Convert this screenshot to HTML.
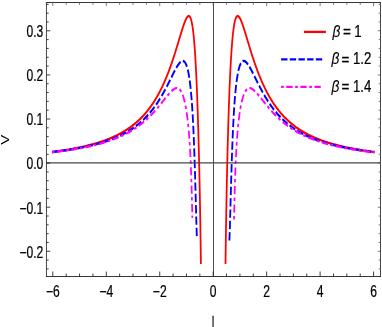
<!DOCTYPE html>
<html><head><meta charset="utf-8"><title>plot</title>
<style>
html,body{margin:0;padding:0;background:#fff;}
body{width:382px;height:327px;overflow:hidden;}
svg{display:block;will-change:transform;}
text{font-family:"Liberation Sans",sans-serif;fill:#000;stroke:#000;stroke-width:0.25px;}
</style></head><body>
<svg width="382" height="327" viewBox="0 0 382 327">
<g transform="scale(0.765 1)">
<g fill="none" stroke-linejoin="round">
<g stroke="#f00" stroke-width="2.3">
<path d="M68.00 152.03 L69.29 151.91 L70.59 151.78 L71.89 151.65 L73.18 151.52 L74.48 151.38 L75.77 151.24 L77.07 151.10 L78.36 150.96 L79.66 150.81 L80.95 150.67 L82.24 150.52 L83.53 150.36 L84.82 150.21 L86.12 150.05 L87.41 149.89 L88.70 149.72 L89.99 149.56 L91.27 149.39 L92.56 149.21 L93.85 149.04 L95.13 148.86 L96.42 148.68 L97.70 148.49 L98.99 148.30 L100.27 148.11 L101.55 147.91 L102.83 147.71 L104.11 147.50 L105.39 147.29 L106.67 147.08 L107.95 146.86 L109.22 146.64 L110.50 146.42 L111.77 146.19 L113.04 145.96 L114.31 145.72 L115.58 145.47 L116.85 145.23 L118.11 144.97 L119.38 144.71 L120.64 144.45 L121.90 144.18 L123.16 143.91 L124.42 143.63 L125.67 143.35 L126.92 143.05 L128.17 142.76 L129.42 142.46 L130.66 142.15 L131.91 141.83 L133.15 141.51 L134.38 141.18 L135.62 140.85 L136.85 140.51 L138.07 140.16 L139.30 139.81 L140.52 139.45 L141.74 139.08 L142.95 138.70 L144.16 138.32 L145.36 137.92 L146.57 137.52 L147.76 137.12 L148.95 136.70 L150.14 136.28 L151.32 135.85 L152.50 135.41 L153.67 134.96 L154.84 134.50 L156.00 134.03 L157.15 133.56 L158.30 133.07 L159.44 132.58 L160.58 132.08 L161.71 131.57 L162.83 131.05 L163.94 130.52 L165.05 129.98 L166.15 129.43 L167.24 128.88 L168.32 128.31 L169.40 127.73 L170.46 127.15 L171.52 126.55 L172.57 125.95 L173.61 125.34 L174.64 124.71 L175.66 124.08 L176.67 123.44 L177.67 122.79 L178.67 122.13 L179.65 121.46 L180.62 120.79 L181.58 120.10 L182.53 119.41 L183.47 118.71 L184.41 118.00 L185.33 117.28 L186.23 116.55 L187.13 115.82 L188.02 115.07 L188.90 114.32 L189.76 113.57 L190.62 112.80 L191.46 112.03 L192.30 111.25 L193.12 110.47 L193.94 109.68 L194.74 108.88 L195.53 108.08 L196.31 107.26 L197.08 106.45 L197.84 105.63 L198.59 104.80 L199.33 103.97 L200.06 103.13 L200.78 102.29 L201.49 101.44 L202.20 100.59 L202.89 99.73 L203.57 98.87 L204.24 98.01 L204.91 97.14 L205.56 96.26 L206.21 95.39 L206.85 94.51 L207.47 93.62 L208.10 92.73 L208.71 91.84 L209.31 90.95 L209.91 90.05 L210.50 89.15 L211.08 88.25 L211.65 87.34 L212.22 86.43 L212.78 85.52 L213.33 84.61 L213.88 83.70 L214.42 82.78 L214.95 81.86 L215.47 80.94 L215.99 80.01 L216.51 79.08 L217.01 78.16 L217.52 77.23 L218.01 76.30 L218.50 75.36 L218.99 74.43 L219.47 73.49 L219.94 72.55 L220.41 71.62 L220.87 70.68 L221.33 69.73 L221.79 68.79 L222.24 67.85 L222.69 66.90 L223.13 65.96 L223.57 65.01 L224.00 64.06 L224.43 63.11 L224.85 62.16 L225.28 61.21 L225.70 60.26 L226.11 59.31 L226.52 58.35 L226.93 57.40 L227.34 56.45 L227.74 55.49 L228.14 54.54 L228.54 53.58 L228.93 52.62 L229.33 51.67 L229.72 50.71 L230.11 49.75 L230.49 48.79 L230.88 47.84 L231.26 46.88 L231.64 45.92 L232.02 44.96 L232.40 44.00 L232.78 43.04 L233.16 42.08 L233.53 41.13 L233.91 40.17 L234.28 39.21 L234.66 38.25 L235.03 37.30 L235.41 36.34 L235.79 35.38 L236.17 34.43 L236.55 33.47 L236.93 32.52 L237.31 31.57 L237.70 30.62 L238.09 29.67 L238.48 28.72 L238.88 27.77 L239.28 26.83 L239.70 25.89 L240.11 24.96 L240.54 24.03 L240.98 23.10 L241.44 22.18 L241.91 21.27 L242.40 20.37 L242.92 19.49 L243.47 18.63 L244.08 17.80 L244.76 17.04 L245.55 16.38 L246.56 16.01 L247.86 16.46 L248.76 17.51 L249.34 18.57 L249.78 19.61 L250.15 20.65 L250.48 21.68 L250.76 22.71 L251.02 23.73 L251.26 24.75 L251.48 25.77 L251.69 26.79 L251.89 27.81 L252.07 28.83 L252.25 29.85 L252.41 30.86 L252.57 31.88 L252.72 32.89 L252.87 33.90 L253.01 34.92 L253.15 35.93 L253.28 36.94 L253.41 37.95 L253.53 38.96 L253.65 39.97 L253.76 40.98 L253.88 41.99 L253.99 43.00 L254.09 44.01 L254.20 45.02 L254.30 46.03 L254.40 47.04 L254.50 48.05 L254.59 49.05 L254.69 50.06 L254.78 51.07 L254.87 52.08 L254.95 53.08 L255.04 54.09 L255.12 55.10 L255.21 56.11 L255.29 57.11 L255.37 58.12 L255.45 59.13 L255.52 60.13 L255.60 61.14 L255.68 62.14 L255.75 63.15 L255.82 64.16 L255.89 65.16 L255.96 66.17 L256.03 67.17 L256.10 68.18 L256.17 69.19 L256.24 70.19 L256.30 71.20 L256.37 72.20 L256.43 73.21 L256.50 74.21 L256.56 75.22 L256.62 76.22 L256.68 77.23 L256.74 78.23 L256.80 79.24 L256.86 80.24 L256.92 81.25 L256.98 82.25 L257.03 83.25 L257.09 84.26 L257.14 85.26 L257.20 86.27 L257.25 87.27 L257.31 88.28 L257.36 89.28 L257.41 90.28 L257.47 91.29 L257.52 92.29 L257.57 93.30 L257.62 94.30 L257.67 95.30 L257.72 96.31 L257.77 97.31 L257.82 98.32 L257.87 99.32 L257.92 100.32 L257.96 101.33 L258.01 102.33 L258.06 103.34 L258.11 104.34 L258.15 105.34 L258.20 106.35 L258.24 107.35 L258.29 108.35 L258.33 109.36 L258.38 110.36 L258.42 111.36 L258.46 112.37 L258.51 113.37 L258.55 114.37 L258.59 115.38 L258.63 116.38 L258.68 117.38 L258.72 118.39 L258.76 119.39 L258.80 120.39 L258.84 121.40 L258.88 122.40 L258.92 123.40 L258.96 124.41 L259.00 125.41 L259.04 126.41 L259.08 127.42 L259.12 128.42 L259.16 129.42 L259.19 130.42 L259.23 131.43 L259.27 132.43 L259.31 133.43 L259.34 134.44 L259.38 135.44 L259.42 136.44 L259.45 137.45 L259.49 138.45 L259.53 139.45 L259.56 140.45 L259.60 141.46 L259.63 142.46 L259.67 143.46 L259.70 144.47 L259.74 145.47 L259.77 146.47 L259.80 147.48 L259.84 148.48 L259.87 149.48 L259.90 150.48 L259.94 151.49 L259.97 152.49 L260.00 153.49 L260.04 154.50 L260.07 155.50 L260.10 156.50 L260.13 157.50 L260.16 158.51 L260.20 159.51 L260.23 160.51 L260.26 161.51 L260.29 162.52 L260.32 163.52 L260.35 164.52 L260.38 165.53 L260.41 166.53 L260.44 167.53 L260.47 168.53 L260.50 169.54 L260.53 170.54 L260.56 171.54 L260.59 172.55 L260.62 173.55 L260.65 174.55 L260.67 175.55 L260.70 176.56 L260.73 177.56 L260.76 178.56 L260.79 179.57 L260.81 180.57 L260.84 181.57 L260.87 182.57 L260.90 183.58 L260.92 184.58 L260.95 185.58 L260.98 186.59 L261.00 187.59 L261.03 188.59 L261.06 189.59 L261.08 190.60 L261.11 191.60 L261.13 192.60 L261.16 193.61 L261.19 194.61 L261.21 195.61 L261.24 196.61 L261.26 197.62 L261.29 198.62 L261.31 199.62 L261.33 200.63 L261.36 201.63 L261.38 202.63 L261.41 203.64 L261.43 204.64 L261.45 205.64 L261.48 206.64 L261.50 207.65 L261.53 208.65 L261.55 209.65 L261.57 210.66 L261.59 211.66 L261.62 212.66 L261.64 213.66 L261.66 214.67 L261.68 215.67 L261.71 216.67 L261.73 217.68 L261.75 218.68 L261.77 219.68 L261.79 220.69 L261.82 221.69 L261.84 222.69 L261.86 223.69 L261.88 224.70 L261.90 225.70 L261.92 226.70 L261.94 227.71 L261.96 228.71 L261.98 229.71 L262.00 230.72 L262.02 231.72 L262.04 232.72 L262.06 233.73 L262.08 234.73 L262.10 235.73 L262.12 236.73 L262.14 237.74 L262.16 238.74 L262.18 239.74 L262.20 240.75 L262.22 241.75 L262.24 242.75 L262.26 243.76 L262.27 244.76 L262.29 245.76 L262.31 246.77 L262.33 247.77 L262.35 248.77 L262.36 249.77 L262.38 250.78 L262.40 251.78 L262.42 252.78 L262.44 253.79 L262.45 254.79 L262.47 255.81 L262.49 256.83 L262.51 257.85 L262.52 258.89 L262.54 259.93 L262.56 260.97 L262.58 262.03 L262.59 263.09 L262.61 264.00"/>
<path d="M294.78 264.00 L294.79 263.09 L294.81 262.03 L294.83 260.97 L294.85 259.93 L294.86 258.89 L294.88 257.85 L294.90 256.83 L294.91 255.81 L294.93 254.79 L294.95 253.79 L294.97 252.78 L294.99 251.78 L295.00 250.78 L295.02 249.77 L295.04 248.77 L295.06 247.77 L295.07 246.77 L295.09 245.76 L295.11 244.76 L295.13 243.76 L295.15 242.75 L295.17 241.75 L295.19 240.75 L295.21 239.74 L295.22 238.74 L295.24 237.74 L295.26 236.73 L295.28 235.73 L295.30 234.73 L295.32 233.73 L295.34 232.72 L295.36 231.72 L295.38 230.72 L295.40 229.71 L295.42 228.71 L295.44 227.71 L295.46 226.70 L295.49 225.70 L295.51 224.70 L295.53 223.69 L295.55 222.69 L295.57 221.69 L295.59 220.69 L295.61 219.68 L295.64 218.68 L295.66 217.68 L295.68 216.67 L295.70 215.67 L295.72 214.67 L295.75 213.66 L295.77 212.66 L295.79 211.66 L295.81 210.66 L295.84 209.65 L295.86 208.65 L295.88 207.65 L295.91 206.64 L295.93 205.64 L295.95 204.64 L295.98 203.64 L296.00 202.63 L296.03 201.63 L296.05 200.63 L296.08 199.62 L296.10 198.62 L296.12 197.62 L296.15 196.61 L296.18 195.61 L296.20 194.61 L296.23 193.61 L296.25 192.60 L296.28 191.60 L296.30 190.60 L296.33 189.59 L296.36 188.59 L296.38 187.59 L296.41 186.59 L296.43 185.58 L296.46 184.58 L296.49 183.58 L296.52 182.57 L296.54 181.57 L296.57 180.57 L296.60 179.57 L296.63 178.56 L296.65 177.56 L296.68 176.56 L296.71 175.55 L296.74 174.55 L296.77 173.55 L296.80 172.55 L296.83 171.54 L296.86 170.54 L296.89 169.54 L296.91 168.53 L296.94 167.53 L296.97 166.53 L297.00 165.53 L297.04 164.52 L297.07 163.52 L297.10 162.52 L297.13 161.51 L297.16 160.51 L297.19 159.51 L297.22 158.51 L297.25 157.50 L297.28 156.50 L297.32 155.50 L297.35 154.50 L297.38 153.49 L297.41 152.49 L297.45 151.49 L297.48 150.48 L297.51 149.48 L297.55 148.48 L297.58 147.48 L297.62 146.47 L297.65 145.47 L297.68 144.47 L297.72 143.46 L297.75 142.46 L297.79 141.46 L297.82 140.45 L297.86 139.45 L297.90 138.45 L297.93 137.45 L297.97 136.44 L298.00 135.44 L298.04 134.44 L298.08 133.43 L298.12 132.43 L298.15 131.43 L298.19 130.42 L298.23 129.42 L298.27 128.42 L298.31 127.42 L298.35 126.41 L298.38 125.41 L298.42 124.41 L298.46 123.40 L298.50 122.40 L298.54 121.40 L298.59 120.39 L298.63 119.39 L298.67 118.39 L298.71 117.38 L298.75 116.38 L298.79 115.38 L298.84 114.37 L298.88 113.37 L298.92 112.37 L298.97 111.36 L299.01 110.36 L299.05 109.36 L299.10 108.35 L299.14 107.35 L299.19 106.35 L299.23 105.34 L299.28 104.34 L299.33 103.34 L299.37 102.33 L299.42 101.33 L299.47 100.32 L299.52 99.32 L299.57 98.32 L299.61 97.31 L299.66 96.31 L299.71 95.30 L299.76 94.30 L299.82 93.30 L299.87 92.29 L299.92 91.29 L299.97 90.28 L300.02 89.28 L300.08 88.28 L300.13 87.27 L300.19 86.27 L300.24 85.26 L300.30 84.26 L300.35 83.25 L300.41 82.25 L300.47 81.25 L300.53 80.24 L300.59 79.24 L300.64 78.23 L300.71 77.23 L300.77 76.22 L300.83 75.22 L300.89 74.21 L300.95 73.21 L301.02 72.20 L301.08 71.20 L301.15 70.19 L301.22 69.19 L301.28 68.18 L301.35 67.17 L301.42 66.17 L301.49 65.16 L301.56 64.16 L301.64 63.15 L301.71 62.14 L301.78 61.14 L301.86 60.13 L301.94 59.13 L302.02 58.12 L302.10 57.11 L302.18 56.11 L302.26 55.10 L302.35 54.09 L302.43 53.08 L302.52 52.08 L302.61 51.07 L302.70 50.06 L302.79 49.05 L302.89 48.05 L302.99 47.04 L303.09 46.03 L303.19 45.02 L303.29 44.01 L303.40 43.00 L303.51 41.99 L303.62 40.98 L303.74 39.97 L303.86 38.96 L303.98 37.95 L304.11 36.94 L304.24 35.93 L304.37 34.92 L304.51 33.90 L304.66 32.89 L304.81 31.88 L304.97 30.86 L305.14 29.85 L305.31 28.83 L305.50 27.81 L305.69 26.79 L305.90 25.77 L306.12 24.75 L306.36 23.73 L306.62 22.71 L306.91 21.68 L307.23 20.65 L307.60 19.61 L308.05 18.57 L308.62 17.51 L309.53 16.46 L310.82 16.01 L311.83 16.38 L312.63 17.04 L313.31 17.80 L313.91 18.63 L314.47 19.49 L314.99 20.37 L315.48 21.27 L315.95 22.18 L316.40 23.10 L316.84 24.03 L317.27 24.96 L317.69 25.89 L318.10 26.83 L318.51 27.77 L318.90 28.72 L319.30 29.67 L319.69 30.62 L320.07 31.57 L320.46 32.52 L320.84 33.47 L321.22 34.43 L321.60 35.38 L321.98 36.34 L322.35 37.30 L322.73 38.25 L323.10 39.21 L323.48 40.17 L323.85 41.13 L324.23 42.08 L324.61 43.04 L324.99 44.00 L325.36 44.96 L325.74 45.92 L326.13 46.88 L326.51 47.84 L326.89 48.79 L327.28 49.75 L327.67 50.71 L328.06 51.67 L328.45 52.62 L328.85 53.58 L329.24 54.54 L329.64 55.49 L330.05 56.45 L330.45 57.40 L330.86 58.35 L331.27 59.31 L331.69 60.26 L332.11 61.21 L332.53 62.16 L332.96 63.11 L333.39 64.06 L333.82 65.01 L334.26 65.96 L334.70 66.90 L335.15 67.85 L335.60 68.79 L336.05 69.73 L336.51 70.68 L336.98 71.62 L337.45 72.55 L337.92 73.49 L338.40 74.43 L338.88 75.36 L339.37 76.30 L339.87 77.23 L340.37 78.16 L340.88 79.08 L341.39 80.01 L341.91 80.94 L342.44 81.86 L342.97 82.78 L343.51 83.70 L344.05 84.61 L344.61 85.52 L345.17 86.43 L345.73 87.34 L346.31 88.25 L346.89 89.15 L347.48 90.05 L348.07 90.95 L348.68 91.84 L349.29 92.73 L349.91 93.62 L350.54 94.51 L351.18 95.39 L351.82 96.26 L352.48 97.14 L353.14 98.01 L353.82 98.87 L354.50 99.73 L355.19 100.59 L355.89 101.44 L356.60 102.29 L357.32 103.13 L358.05 103.97 L358.79 104.80 L359.54 105.63 L360.30 106.45 L361.07 107.26 L361.86 108.08 L362.65 108.88 L363.45 109.68 L364.26 110.47 L365.09 111.25 L365.92 112.03 L366.77 112.80 L367.62 113.57 L368.49 114.32 L369.36 115.07 L370.25 115.82 L371.15 116.55 L372.06 117.28 L372.98 118.00 L373.91 118.71 L374.85 119.41 L375.80 120.10 L376.76 120.79 L377.74 121.46 L378.72 122.13 L379.71 122.79 L380.71 123.44 L381.72 124.08 L382.75 124.71 L383.78 125.34 L384.82 125.95 L385.87 126.55 L386.92 127.15 L387.99 127.73 L389.06 128.31 L390.15 128.88 L391.24 129.43 L392.34 129.98 L393.44 130.52 L394.56 131.05 L395.68 131.57 L396.81 132.08 L397.94 132.58 L399.09 133.07 L400.23 133.56 L401.39 134.03 L402.55 134.50 L403.71 134.96 L404.89 135.41 L406.06 135.85 L407.24 136.28 L408.43 136.70 L409.62 137.12 L410.82 137.52 L412.02 137.92 L413.23 138.32 L414.44 138.70 L415.65 139.08 L416.87 139.45 L418.09 139.81 L419.31 140.16 L420.54 140.51 L421.77 140.85 L423.00 141.18 L424.24 141.51 L425.48 141.83 L426.72 142.15 L427.97 142.46 L429.21 142.76 L430.46 143.05 L431.72 143.35 L432.97 143.63 L434.23 143.91 L435.48 144.18 L436.74 144.45 L438.01 144.71 L439.27 144.97 L440.54 145.23 L441.80 145.47 L443.07 145.72 L444.34 145.96 L445.61 146.19 L446.89 146.42 L448.16 146.64 L449.44 146.86 L450.71 147.08 L451.99 147.29 L453.27 147.50 L454.55 147.71 L455.83 147.91 L457.11 148.11 L458.40 148.30 L459.68 148.49 L460.97 148.68 L462.25 148.86 L463.54 149.04 L464.82 149.21 L466.11 149.39 L467.40 149.56 L468.69 149.72 L469.98 149.89 L471.27 150.05 L472.56 150.21 L473.85 150.36 L475.14 150.52 L476.44 150.67 L477.73 150.81 L479.02 150.96 L480.32 151.10 L481.61 151.24 L482.91 151.38 L484.20 151.52 L485.50 151.65 L486.79 151.78 L488.09 151.91 L489.39 152.03"/>
</g>
<g stroke="#00f" stroke-width="2.4" stroke-dasharray="8.35 3.00">
<path stroke-dashoffset="0" d="M68.00 152.02 L69.30 151.90 L70.59 151.79 L71.89 151.66 L73.19 151.54 L74.49 151.42 L75.78 151.29 L77.08 151.16 L78.38 151.03 L79.67 150.90 L80.97 150.76 L82.26 150.63 L83.56 150.49 L84.85 150.34 L86.14 150.20 L87.44 150.05 L88.73 149.90 L90.02 149.75 L91.31 149.59 L92.61 149.44 L93.90 149.27 L95.19 149.11 L96.47 148.95 L97.76 148.78 L99.05 148.60 L100.34 148.43 L101.63 148.25 L102.91 148.07 L104.20 147.88 L105.48 147.69 L106.76 147.50 L108.05 147.30 L109.33 147.10 L110.61 146.90 L111.89 146.69 L113.16 146.48 L114.44 146.27 L115.72 146.05 L116.99 145.82 L118.27 145.60 L119.54 145.36 L120.81 145.13 L122.08 144.88 L123.35 144.64 L124.61 144.39 L125.88 144.13 L127.14 143.87 L128.40 143.60 L129.66 143.33 L130.92 143.05 L132.17 142.77 L133.42 142.48 L134.67 142.18 L135.92 141.88 L137.17 141.58 L138.41 141.26 L139.65 140.94 L140.89 140.62 L142.12 140.28 L143.35 139.94 L144.58 139.60 L145.80 139.24 L147.03 138.88 L148.24 138.51 L149.46 138.14 L150.67 137.75 L151.87 137.36 L153.07 136.96 L154.27 136.55 L155.46 136.13 L156.64 135.71 L157.83 135.28 L159.00 134.83 L160.17 134.38 L161.34 133.92 L162.50 133.45 L163.65 132.98 L164.79 132.49 L165.93 131.99 L167.07 131.49 L168.19 130.97 L169.31 130.45 L170.42 129.91 L171.52 129.37 L172.62 128.81 L173.70 128.25 L174.78 127.68 L175.85 127.09 L176.91 126.50 L177.96 125.90 L179.00 125.29 L180.03 124.67 L181.06 124.04 L182.07 123.40 L183.07 122.75 L184.06 122.09 L185.05 121.42 L186.02 120.74 L186.98 120.06 L187.93 119.37 L188.87 118.66 L189.80 117.95 L190.72 117.23 L191.63 116.50 L192.53 115.77 L193.41 115.03 L194.29 114.28 L195.16 113.52 L196.01 112.75 L196.86 111.98 L197.69 111.20 L198.51 110.42 L199.33 109.63 L200.13 108.83 L200.92 108.03 L201.70 107.22 L202.48 106.41 L203.24 105.59 L203.99 104.76 L204.74 103.93 L205.47 103.10 L206.20 102.26 L206.92 101.42 L207.63 100.57 L208.33 99.72 L209.02 98.86 L209.71 98.00 L210.38 97.14 L211.05 96.28 L211.71 95.41 L212.37 94.54 L213.02 93.66 L213.66 92.79 L214.30 91.91 L214.93 91.03 L215.55 90.14 L216.17 89.26 L216.79 88.37 L217.39 87.48 L218.00 86.59 L218.60 85.70 L219.20 84.81 L219.79 83.91 L220.38 83.02 L220.97 82.12 L221.55 81.23 L222.14 80.33 L222.72 79.43 L223.30 78.54 L223.88 77.64 L224.46 76.74 L225.04 75.85 L225.62 74.95 L226.20 74.06 L226.79 73.17 L227.38 72.29 L227.98 71.40 L228.58 70.52 L229.19 69.64 L229.81 68.77 L230.44 67.91 L231.08 67.05 L231.74 66.21 L232.42 65.38 L233.13 64.56 L233.88 63.77 L234.66 63.02 L235.51 62.31 L236.43 61.68 L237.47 61.19 L238.65 60.93 L239.95 61.10 L241.14 61.76 L242.06 62.65 L242.77 63.61 L243.36 64.59 L243.86 65.59 L244.31 66.59 L244.71 67.59 L245.07 68.60 L245.40 69.61 L245.71 70.62 L246.00 71.62 L246.27 72.63 L246.52 73.64 L246.76 74.65 L246.99 75.66 L247.21 76.67 L247.42 77.68 L247.61 78.69 L247.80 79.71 L247.99 80.72 L248.16 81.73 L248.33 82.74 L248.49 83.75 L248.65 84.76 L248.80 85.77 L248.95 86.78 L249.09 87.78 L249.23 88.79 L249.37 89.80 L249.50 90.81 L249.62 91.82 L249.75 92.83 L249.87 93.84 L249.98 94.85 L250.10 95.86 L250.21 96.87 L250.32 97.88 L250.42 98.88 L250.53 99.89 L250.63 100.90 L250.73 101.91 L250.82 102.92 L250.92 103.93 L251.01 104.93 L251.10 105.94 L251.19 106.95 L251.28 107.96 L251.36 108.96 L251.44 109.97 L251.53 110.98 L251.61 111.99 L251.69 112.99 L251.76 114.00 L251.84 115.01 L251.92 116.02 L251.99 117.02 L252.06 118.03 L252.13 119.04 L252.20 120.04 L252.27 121.05 L252.34 122.06 L252.41 123.06 L252.47 124.07 L252.54 125.07 L252.60 126.08 L252.67 127.09 L252.73 128.09 L252.79 129.10 L252.85 130.10 L252.91 131.11 L252.97 132.12 L253.03 133.12 L253.09 134.13 L253.14 135.13 L253.20 136.14 L253.25 137.14 L253.31 138.15 L253.36 139.15 L253.42 140.16 L253.47 141.16 L253.52 142.17 L253.57 143.17 L253.62 144.18 L253.67 145.18 L253.72 146.19 L253.77 147.19 L253.82 148.19 L253.87 149.20 L253.92 150.20 L253.96 151.21 L254.01 152.21 L254.06 153.22 L254.10 154.22 L254.15 155.22 L254.20 156.23 L254.24 157.23 L254.28 158.24 L254.33 159.24 L254.37 160.24 L254.42 161.25 L254.46 162.25 L254.50 163.25 L254.54 164.26 L254.59 165.26 L254.63 166.26 L254.67 167.27 L254.71 168.27 L254.75 169.27 L254.79 170.28 L254.83 171.28 L254.87 172.28 L254.91 173.28 L254.95 174.29 L254.99 175.29 L255.03 176.29 L255.07 177.29 L255.10 178.30 L255.14 179.30 L255.18 180.30 L255.22 181.30 L255.26 182.30 L255.29 183.31 L255.33 184.31 L255.37 185.31 L255.41 186.31 L255.44 187.31 L255.48 188.31 L255.52 189.32 L255.55 190.32 L255.59 191.32 L255.63 192.32 L255.66 193.32 L255.70 194.32 L255.73 195.32 L255.77 196.32 L255.80 197.32 L255.84 198.32 L255.88 199.32 L255.91 200.32 L255.95 201.32 L255.98 202.32 L256.02 203.32 L256.05 204.32 L256.09 205.32 L256.12 206.32 L256.16 207.32 L256.20 208.32 L256.23 209.32 L256.27 210.32 L256.30 211.32 L256.34 212.32 L256.37 213.31 L256.41 214.31 L256.45 215.31 L256.48 216.31 L256.52 217.30 L256.56 218.30 L256.59 219.30 L256.63 220.29 L256.67 221.29 L256.71 222.28 L256.74 223.28 L256.78 224.27 L256.82 225.26 L256.86 226.26 L256.90 227.25 L256.94 228.24 L256.98 229.23 L257.02 230.22 L257.07 231.21 L257.11 232.20 L257.16 233.18 L257.20 234.16 L257.25 235.15 L257.30 236.12"/>
<path stroke-dashoffset="0" d="M299.82 240.50 L299.86 239.98 L299.92 239.03 L299.98 238.07 L300.03 237.10 L300.09 236.12 L300.13 235.15 L300.18 234.16 L300.23 233.18 L300.27 232.20 L300.32 231.21 L300.36 230.22 L300.40 229.23 L300.44 228.24 L300.48 227.25 L300.52 226.26 L300.56 225.26 L300.60 224.27 L300.64 223.28 L300.68 222.28 L300.72 221.29 L300.75 220.29 L300.79 219.30 L300.83 218.30 L300.87 217.30 L300.90 216.31 L300.94 215.31 L300.97 214.31 L301.01 213.31 L301.05 212.32 L301.08 211.32 L301.12 210.32 L301.15 209.32 L301.19 208.32 L301.23 207.32 L301.26 206.32 L301.30 205.32 L301.33 204.32 L301.37 203.32 L301.40 202.32 L301.44 201.32 L301.47 200.32 L301.51 199.32 L301.55 198.32 L301.58 197.32 L301.62 196.32 L301.65 195.32 L301.69 194.32 L301.72 193.32 L301.76 192.32 L301.80 191.32 L301.83 190.32 L301.87 189.32 L301.91 188.31 L301.94 187.31 L301.98 186.31 L302.02 185.31 L302.05 184.31 L302.09 183.31 L302.13 182.30 L302.17 181.30 L302.20 180.30 L302.24 179.30 L302.28 178.30 L302.32 177.29 L302.36 176.29 L302.40 175.29 L302.44 174.29 L302.48 173.28 L302.52 172.28 L302.56 171.28 L302.60 170.28 L302.64 169.27 L302.68 168.27 L302.72 167.27 L302.76 166.26 L302.80 165.26 L302.84 164.26 L302.88 163.25 L302.93 162.25 L302.97 161.25 L303.01 160.24 L303.06 159.24 L303.10 158.24 L303.15 157.23 L303.19 156.23 L303.24 155.22 L303.28 154.22 L303.33 153.22 L303.37 152.21 L303.42 151.21 L303.47 150.20 L303.52 149.20 L303.56 148.19 L303.61 147.19 L303.66 146.19 L303.71 145.18 L303.76 144.18 L303.81 143.17 L303.87 142.17 L303.92 141.16 L303.97 140.16 L304.02 139.15 L304.08 138.15 L304.13 137.14 L304.19 136.14 L304.24 135.13 L304.30 134.13 L304.36 133.12 L304.42 132.12 L304.47 131.11 L304.53 130.10 L304.59 129.10 L304.66 128.09 L304.72 127.09 L304.78 126.08 L304.85 125.07 L304.91 124.07 L304.98 123.06 L305.04 122.06 L305.11 121.05 L305.18 120.04 L305.25 119.04 L305.32 118.03 L305.40 117.02 L305.47 116.02 L305.54 115.01 L305.62 114.00 L305.70 112.99 L305.78 111.99 L305.86 110.98 L305.94 109.97 L306.02 108.96 L306.11 107.96 L306.20 106.95 L306.29 105.94 L306.38 104.93 L306.47 103.93 L306.56 102.92 L306.66 101.91 L306.76 100.90 L306.86 99.89 L306.96 98.88 L307.07 97.88 L307.18 96.87 L307.29 95.86 L307.40 94.85 L307.52 93.84 L307.64 92.83 L307.76 91.82 L307.89 90.81 L308.02 89.80 L308.15 88.79 L308.29 87.78 L308.44 86.78 L308.58 85.77 L308.73 84.76 L308.89 83.75 L309.05 82.74 L309.22 81.73 L309.40 80.72 L309.58 79.71 L309.77 78.69 L309.97 77.68 L310.18 76.67 L310.39 75.66 L310.62 74.65 L310.86 73.64 L311.12 72.63 L311.39 71.62 L311.67 70.62 L311.98 69.61 L312.32 68.60 L312.68 67.59 L313.08 66.59 L313.52 65.59 L314.03 64.59 L314.61 63.61 L315.33 62.65 L316.24 61.76 L317.44 61.10 L318.74 60.93 L319.92 61.19 L320.95 61.68 L321.88 62.31 L322.72 63.02 L323.51 63.77 L324.25 64.56 L324.96 65.38 L325.64 66.21 L326.31 67.05 L326.95 67.91 L327.58 68.77 L328.20 69.64 L328.81 70.52 L329.41 71.40 L330.01 72.29 L330.60 73.17 L331.18 74.06 L331.77 74.95 L332.35 75.85 L332.93 76.74 L333.51 77.64 L334.09 78.54 L334.67 79.43 L335.25 80.33 L335.83 81.23 L336.42 82.12 L337.01 83.02 L337.60 83.91 L338.19 84.81 L338.79 85.70 L339.39 86.59 L339.99 87.48 L340.60 88.37 L341.21 89.26 L341.83 90.14 L342.46 91.03 L343.09 91.91 L343.72 92.79 L344.37 93.66 L345.02 94.54 L345.67 95.41 L346.33 96.28 L347.00 97.14 L347.68 98.00 L348.36 98.86 L349.06 99.72 L349.76 100.57 L350.47 101.42 L351.19 102.26 L351.91 103.10 L352.65 103.93 L353.39 104.76 L354.15 105.59 L354.91 106.41 L355.68 107.22 L356.46 108.03 L357.26 108.83 L358.06 109.63 L358.87 110.42 L359.70 111.20 L360.53 111.98 L361.37 112.75 L362.23 113.52 L363.09 114.28 L363.97 115.03 L364.86 115.77 L365.76 116.50 L366.66 117.23 L367.58 117.95 L368.51 118.66 L369.45 119.37 L370.41 120.06 L371.37 120.74 L372.34 121.42 L373.32 122.09 L374.31 122.75 L375.32 123.40 L376.33 124.04 L377.35 124.67 L378.38 125.29 L379.43 125.90 L380.48 126.50 L381.54 127.09 L382.61 127.68 L383.68 128.25 L384.77 128.81 L385.86 129.37 L386.97 129.91 L388.08 130.45 L389.20 130.97 L390.32 131.49 L391.45 131.99 L392.59 132.49 L393.74 132.98 L394.89 133.45 L396.05 133.92 L397.21 134.38 L398.38 134.83 L399.56 135.28 L400.74 135.71 L401.93 136.13 L403.12 136.55 L404.31 136.96 L405.52 137.36 L406.72 137.75 L407.93 138.14 L409.14 138.51 L410.36 138.88 L411.58 139.24 L412.81 139.60 L414.03 139.94 L415.26 140.28 L416.50 140.62 L417.74 140.94 L418.98 141.26 L420.22 141.58 L421.46 141.88 L422.71 142.18 L423.96 142.48 L425.22 142.77 L426.47 143.05 L427.73 143.33 L428.99 143.60 L430.25 143.87 L431.51 144.13 L432.77 144.39 L434.04 144.64 L435.31 144.88 L436.58 145.13 L437.85 145.36 L439.12 145.60 L440.39 145.82 L441.67 146.05 L442.94 146.27 L444.22 146.48 L445.50 146.69 L446.78 146.90 L448.06 147.10 L449.34 147.30 L450.62 147.50 L451.91 147.69 L453.19 147.88 L454.47 148.07 L455.76 148.25 L457.05 148.43 L458.33 148.60 L459.62 148.78 L460.91 148.95 L462.20 149.11 L463.49 149.27 L464.78 149.44 L466.07 149.59 L467.36 149.75 L468.66 149.90 L469.95 150.05 L471.24 150.20 L472.54 150.34 L473.83 150.49 L475.12 150.63 L476.42 150.76 L477.71 150.90 L479.01 151.03 L480.31 151.16 L481.60 151.29 L482.90 151.42 L484.20 151.54 L485.49 151.66 L486.79 151.79 L488.09 151.90 L489.39 152.02"/>
</g>
<g stroke="#f0f" stroke-width="2.3" stroke-dasharray="3.45 3.40 8.15 3.40">
<path stroke-dashoffset="0" d="M68.00 152.30 L69.30 152.19 L70.59 152.07 L71.89 151.96 L73.19 151.84 L74.49 151.71 L75.79 151.59 L77.08 151.46 L78.38 151.34 L79.68 151.21 L80.97 151.07 L82.27 150.94 L83.56 150.80 L84.86 150.66 L86.15 150.52 L87.45 150.38 L88.74 150.23 L90.03 150.08 L91.32 149.93 L92.62 149.78 L93.91 149.62 L95.20 149.46 L96.49 149.30 L97.78 149.14 L99.07 148.97 L100.36 148.80 L101.64 148.62 L102.93 148.45 L104.22 148.27 L105.50 148.08 L106.79 147.90 L108.07 147.71 L109.35 147.51 L110.63 147.31 L111.92 147.11 L113.20 146.91 L114.47 146.70 L115.75 146.49 L117.03 146.27 L118.30 146.05 L119.58 145.82 L120.85 145.60 L122.12 145.36 L123.39 145.12 L124.66 144.88 L125.93 144.63 L127.20 144.38 L128.46 144.12 L129.72 143.86 L130.98 143.59 L132.24 143.32 L133.50 143.04 L134.75 142.76 L136.01 142.47 L137.26 142.18 L138.50 141.87 L139.75 141.57 L140.99 141.25 L142.23 140.94 L143.47 140.61 L144.71 140.28 L145.94 139.94 L147.17 139.59 L148.39 139.24 L149.61 138.88 L150.83 138.52 L152.05 138.14 L153.26 137.76 L154.46 137.37 L155.67 136.98 L156.87 136.57 L158.06 136.16 L159.25 135.74 L160.43 135.32 L161.61 134.88 L162.79 134.44 L163.96 133.98 L165.12 133.52 L166.28 133.05 L167.43 132.57 L168.58 132.09 L169.72 131.59 L170.85 131.09 L171.98 130.58 L173.10 130.05 L174.21 129.52 L175.32 128.98 L176.41 128.44 L177.51 127.88 L178.59 127.31 L179.66 126.74 L180.73 126.15 L181.79 125.56 L182.84 124.96 L183.89 124.35 L184.92 123.73 L185.95 123.11 L186.96 122.47 L187.97 121.83 L188.97 121.18 L189.96 120.52 L190.95 119.85 L191.92 119.18 L192.88 118.50 L193.84 117.81 L194.79 117.11 L195.73 116.41 L196.66 115.70 L197.58 114.99 L198.49 114.27 L199.40 113.54 L200.29 112.80 L201.18 112.07 L202.06 111.32 L202.94 110.57 L203.81 109.82 L204.67 109.06 L205.52 108.30 L206.37 107.53 L207.21 106.76 L208.04 105.99 L208.88 105.21 L209.70 104.44 L210.52 103.65 L211.34 102.87 L212.16 102.09 L212.97 101.30 L213.78 100.52 L214.59 99.73 L215.40 98.95 L216.21 98.17 L217.03 97.39 L217.84 96.61 L218.67 95.84 L219.49 95.07 L220.33 94.31 L221.18 93.56 L222.04 92.82 L222.92 92.10 L223.83 91.40 L224.75 90.72 L225.72 90.07 L226.72 89.47 L227.78 88.94 L228.91 88.50 L230.11 88.21 L231.39 88.12 L232.70 88.32 L233.92 88.83 L234.99 89.54 L235.89 90.38 L236.65 91.28 L237.32 92.22 L237.90 93.17 L238.43 94.14 L238.92 95.11 L239.36 96.09 L239.77 97.08 L240.15 98.07 L240.51 99.06 L240.85 100.06 L241.17 101.06 L241.48 102.05 L241.77 103.05 L242.05 104.05 L242.31 105.05 L242.56 106.06 L242.81 107.06 L243.04 108.06 L243.27 109.07 L243.48 110.07 L243.69 111.08 L243.90 112.08 L244.09 113.09 L244.28 114.09 L244.46 115.10 L244.64 116.11 L244.81 117.11 L244.98 118.12 L245.14 119.13 L245.30 120.14 L245.45 121.14 L245.60 122.15 L245.74 123.16 L245.88 124.17 L246.02 125.18 L246.15 126.18 L246.28 127.19 L246.41 128.20 L246.53 129.21 L246.65 130.22 L246.76 131.23 L246.88 132.24 L246.99 133.25 L247.10 134.26 L247.20 135.27 L247.30 136.27 L247.40 137.28 L247.50 138.29 L247.59 139.30 L247.69 140.31 L247.78 141.32 L247.87 142.33 L247.95 143.34 L248.04 144.35 L248.12 145.36 L248.20 146.37 L248.28 147.38 L248.36 148.39 L248.43 149.40 L248.51 150.40 L248.58 151.41 L248.65 152.42 L248.72 153.43 L248.79 154.44 L248.86 155.45 L248.92 156.46 L248.99 157.47 L249.05 158.48 L249.11 159.48 L249.17 160.49 L249.23 161.50 L249.29 162.51 L249.35 163.52 L249.40 164.53 L249.46 165.53 L249.51 166.54 L249.57 167.55 L249.62 168.56 L249.67 169.57 L249.72 170.57 L249.77 171.58 L249.82 172.59 L249.87 173.60 L249.91 174.60 L249.96 175.61 L250.01 176.62 L250.05 177.63 L250.09 178.63 L250.14 179.64 L250.18 180.65 L250.22 181.66 L250.26 182.66 L250.31 183.67 L250.35 184.68 L250.39 185.68 L250.43 186.69 L250.46 187.70 L250.50 188.70 L250.54 189.71 L250.58 190.72 L250.61 191.72 L250.65 192.73 L250.68 193.74 L250.72 194.74 L250.75 195.75 L250.79 196.76 L250.82 197.76 L250.86 198.77 L250.89 199.77 L250.92 200.78 L250.95 201.79 L250.98 202.79 L251.01 203.80 L251.05 204.80 L251.08 205.81 L251.11 206.82 L251.14 207.82 L251.17 208.83 L251.19 209.83 L251.22 210.84 L251.25 211.84 L251.28 212.85 L251.31 213.85 L251.33 214.86 L251.36 215.87 L251.39 216.87 L251.41 217.88"/>
<path stroke-dashoffset="0" stroke-dasharray="3.47 3.42 8.19 3.42" d="M305.93 219.50 L305.94 218.88 L305.97 217.88 L306.00 216.87 L306.02 215.87 L306.05 214.86 L306.08 213.85 L306.11 212.85 L306.13 211.84 L306.16 210.84 L306.19 209.83 L306.22 208.83 L306.25 207.82 L306.28 206.82 L306.31 205.81 L306.34 204.80 L306.37 203.80 L306.40 202.79 L306.43 201.79 L306.47 200.78 L306.50 199.77 L306.53 198.77 L306.56 197.76 L306.60 196.76 L306.63 195.75 L306.67 194.74 L306.70 193.74 L306.74 192.73 L306.77 191.72 L306.81 190.72 L306.85 189.71 L306.88 188.70 L306.92 187.70 L306.96 186.69 L307.00 185.68 L307.04 184.68 L307.08 183.67 L307.12 182.66 L307.16 181.66 L307.20 180.65 L307.25 179.64 L307.29 178.63 L307.34 177.63 L307.38 176.62 L307.43 175.61 L307.47 174.60 L307.52 173.60 L307.57 172.59 L307.62 171.58 L307.67 170.57 L307.72 169.57 L307.77 168.56 L307.82 167.55 L307.87 166.54 L307.93 165.53 L307.98 164.53 L308.04 163.52 L308.10 162.51 L308.15 161.50 L308.21 160.49 L308.27 159.48 L308.34 158.48 L308.40 157.47 L308.46 156.46 L308.53 155.45 L308.60 154.44 L308.66 153.43 L308.73 152.42 L308.80 151.41 L308.88 150.40 L308.95 149.40 L309.03 148.39 L309.10 147.38 L309.18 146.37 L309.26 145.36 L309.35 144.35 L309.43 143.34 L309.52 142.33 L309.61 141.32 L309.70 140.31 L309.79 139.30 L309.89 138.29 L309.98 137.28 L310.08 136.27 L310.19 135.27 L310.29 134.26 L310.40 133.25 L310.51 132.24 L310.62 131.23 L310.74 130.22 L310.86 129.21 L310.98 128.20 L311.10 127.19 L311.23 126.18 L311.37 125.18 L311.50 124.17 L311.64 123.16 L311.79 122.15 L311.93 121.14 L312.09 120.14 L312.24 119.13 L312.41 118.12 L312.57 117.11 L312.74 116.11 L312.92 115.10 L313.11 114.09 L313.29 113.09 L313.49 112.08 L313.69 111.08 L313.90 110.07 L314.12 109.07 L314.34 108.06 L314.58 107.06 L314.82 106.06 L315.08 105.05 L315.34 104.05 L315.62 103.05 L315.91 102.05 L316.21 101.06 L316.53 100.06 L316.87 99.06 L317.23 98.07 L317.61 97.08 L318.03 96.09 L318.47 95.11 L318.95 94.14 L319.48 93.17 L320.07 92.22 L320.73 91.28 L321.50 90.38 L322.40 89.54 L323.46 88.83 L324.69 88.32 L325.99 88.12 L327.27 88.21 L328.48 88.50 L329.60 88.94 L330.66 89.47 L331.67 90.07 L332.63 90.72 L333.56 91.40 L334.46 92.10 L335.34 92.82 L336.20 93.56 L337.05 94.31 L337.89 95.07 L338.72 95.84 L339.54 96.61 L340.36 97.39 L341.17 98.17 L341.98 98.95 L342.79 99.73 L343.60 100.52 L344.42 101.30 L345.23 102.09 L346.04 102.87 L346.86 103.65 L347.68 104.44 L348.51 105.21 L349.34 105.99 L350.18 106.76 L351.02 107.53 L351.87 108.30 L352.72 109.06 L353.58 109.82 L354.45 110.57 L355.32 111.32 L356.20 112.07 L357.09 112.80 L357.99 113.54 L358.89 114.27 L359.81 114.99 L360.73 115.70 L361.66 116.41 L362.60 117.11 L363.55 117.81 L364.50 118.50 L365.47 119.18 L366.44 119.85 L367.42 120.52 L368.41 121.18 L369.41 121.83 L370.42 122.47 L371.44 123.11 L372.47 123.73 L373.50 124.35 L374.54 124.96 L375.59 125.56 L376.65 126.15 L377.72 126.74 L378.80 127.31 L379.88 127.88 L380.97 128.44 L382.07 128.98 L383.18 129.52 L384.29 130.05 L385.41 130.58 L386.54 131.09 L387.67 131.59 L388.81 132.09 L389.95 132.57 L391.11 133.05 L392.26 133.52 L393.43 133.98 L394.60 134.44 L395.77 134.88 L396.95 135.32 L398.14 135.74 L399.33 136.16 L400.52 136.57 L401.72 136.98 L402.92 137.37 L404.13 137.76 L405.34 138.14 L406.55 138.52 L407.77 138.88 L408.99 139.24 L410.22 139.59 L411.45 139.94 L412.68 140.28 L413.92 140.61 L415.15 140.94 L416.39 141.25 L417.64 141.57 L418.88 141.87 L420.13 142.18 L421.38 142.47 L422.63 142.76 L423.89 143.04 L425.14 143.32 L426.40 143.59 L427.66 143.86 L428.93 144.12 L430.19 144.38 L431.46 144.63 L432.72 144.88 L433.99 145.12 L435.26 145.36 L436.53 145.60 L437.81 145.82 L439.08 146.05 L440.36 146.27 L441.63 146.49 L442.91 146.70 L444.19 146.91 L445.47 147.11 L446.75 147.31 L448.03 147.51 L449.32 147.71 L450.60 147.90 L451.88 148.08 L453.17 148.27 L454.46 148.45 L455.74 148.62 L457.03 148.80 L458.32 148.97 L459.61 149.14 L460.90 149.30 L462.19 149.46 L463.48 149.62 L464.77 149.78 L466.06 149.93 L467.35 150.08 L468.65 150.23 L469.94 150.38 L471.23 150.52 L472.53 150.66 L473.82 150.80 L475.12 150.94 L476.41 151.07 L477.71 151.21 L479.01 151.34 L480.30 151.46 L481.60 151.59 L482.90 151.71 L484.19 151.84 L485.49 151.96 L486.79 152.07 L488.09 152.19 L489.39 152.30"/>
</g>
</g>
<g fill="none" stroke="#2e2e2e" stroke-width="1">
<path stroke-width="1.2" stroke="#464646" d="M60.65 162.95 H497.39"/>
<path stroke-width="1.25" stroke="#484848" d="M279.08 2.5 V276.5"/>
</g>
<g fill="none" stroke="#1a1a1a" stroke-width="1" stroke-linecap="square">
<path d="M60.65 2.5 H497.39 M60.65 276.5 H497.39"/>
<path stroke-width="1.15" stroke="#303030" d="M60.65 2.5 V276.5 M497.39 2.5 V276.5"/>
</g>
<g fill="none" stroke="#262626" stroke-width="1">
<path d="M69.05 276.50 v-5.00"/>
<path d="M86.52 276.50 v-3.00"/>
<path d="M103.99 276.50 v-3.00"/>
<path d="M121.46 276.50 v-3.00"/>
<path d="M138.93 276.50 v-5.00"/>
<path d="M156.40 276.50 v-3.00"/>
<path d="M173.87 276.50 v-3.00"/>
<path d="M191.34 276.50 v-3.00"/>
<path d="M208.81 276.50 v-5.00"/>
<path d="M226.28 276.50 v-3.00"/>
<path d="M243.75 276.50 v-3.00"/>
<path d="M261.22 276.50 v-3.00"/>
<path d="M278.69 276.50 v-5.00"/>
<path d="M296.16 276.50 v-3.00"/>
<path d="M313.63 276.50 v-3.00"/>
<path d="M331.10 276.50 v-3.00"/>
<path d="M348.58 276.50 v-5.00"/>
<path d="M366.05 276.50 v-3.00"/>
<path d="M383.52 276.50 v-3.00"/>
<path d="M400.99 276.50 v-3.00"/>
<path d="M418.46 276.50 v-5.00"/>
<path d="M435.93 276.50 v-3.00"/>
<path d="M453.40 276.50 v-3.00"/>
<path d="M470.87 276.50 v-3.00"/>
<path d="M488.34 276.50 v-5.00"/>
<path d="M60.65 268.94 h3.00"/>
<path d="M60.65 260.12 h3.00"/>
<path d="M60.65 251.30 h5.00"/>
<path d="M60.65 242.48 h3.00"/>
<path d="M60.65 233.66 h3.00"/>
<path d="M60.65 224.84 h3.00"/>
<path d="M60.65 216.02 h3.00"/>
<path d="M60.65 207.20 h5.00"/>
<path d="M60.65 198.38 h3.00"/>
<path d="M60.65 189.56 h3.00"/>
<path d="M60.65 180.74 h3.00"/>
<path d="M60.65 171.92 h3.00"/>
<path d="M60.65 163.10 h5.00"/>
<path d="M60.65 154.28 h3.00"/>
<path d="M60.65 145.46 h3.00"/>
<path d="M60.65 136.64 h3.00"/>
<path d="M60.65 127.82 h3.00"/>
<path d="M60.65 119.00 h5.00"/>
<path d="M60.65 110.18 h3.00"/>
<path d="M60.65 101.36 h3.00"/>
<path d="M60.65 92.54 h3.00"/>
<path d="M60.65 83.72 h3.00"/>
<path d="M60.65 74.90 h5.00"/>
<path d="M60.65 66.08 h3.00"/>
<path d="M60.65 57.26 h3.00"/>
<path d="M60.65 48.44 h3.00"/>
<path d="M60.65 39.62 h3.00"/>
<path d="M60.65 30.80 h5.00"/>
<path d="M60.65 21.98 h3.00"/>
<path d="M60.65 13.16 h3.00"/>
<path d="M60.65 4.34 h3.00"/>
</g>
<g fill="none" stroke="#5a5a5a" stroke-width="0.9">
<path d="M69.05 2.50 v3.60"/>
<path d="M86.52 2.50 v2.40"/>
<path d="M103.99 2.50 v2.40"/>
<path d="M121.46 2.50 v2.40"/>
<path d="M138.93 2.50 v3.60"/>
<path d="M156.40 2.50 v2.40"/>
<path d="M173.87 2.50 v2.40"/>
<path d="M191.34 2.50 v2.40"/>
<path d="M208.81 2.50 v3.60"/>
<path d="M226.28 2.50 v2.40"/>
<path d="M243.75 2.50 v2.40"/>
<path d="M261.22 2.50 v2.40"/>
<path d="M278.69 2.50 v3.60"/>
<path d="M296.16 2.50 v2.40"/>
<path d="M313.63 2.50 v2.40"/>
<path d="M331.10 2.50 v2.40"/>
<path d="M348.58 2.50 v3.60"/>
<path d="M366.05 2.50 v2.40"/>
<path d="M383.52 2.50 v2.40"/>
<path d="M400.99 2.50 v2.40"/>
<path d="M418.46 2.50 v3.60"/>
<path d="M435.93 2.50 v2.40"/>
<path d="M453.40 2.50 v2.40"/>
<path d="M470.87 2.50 v2.40"/>
<path d="M488.34 2.50 v3.60"/>
<path d="M497.39 268.94 h-2.40"/>
<path d="M497.39 260.12 h-2.40"/>
<path d="M497.39 251.30 h-3.60"/>
<path d="M497.39 242.48 h-2.40"/>
<path d="M497.39 233.66 h-2.40"/>
<path d="M497.39 224.84 h-2.40"/>
<path d="M497.39 216.02 h-2.40"/>
<path d="M497.39 207.20 h-3.60"/>
<path d="M497.39 198.38 h-2.40"/>
<path d="M497.39 189.56 h-2.40"/>
<path d="M497.39 180.74 h-2.40"/>
<path d="M497.39 171.92 h-2.40"/>
<path d="M497.39 163.10 h-3.60"/>
<path d="M497.39 154.28 h-2.40"/>
<path d="M497.39 145.46 h-2.40"/>
<path d="M497.39 136.64 h-2.40"/>
<path d="M497.39 127.82 h-2.40"/>
<path d="M497.39 119.00 h-3.60"/>
<path d="M497.39 110.18 h-2.40"/>
<path d="M497.39 101.36 h-2.40"/>
<path d="M497.39 92.54 h-2.40"/>
<path d="M497.39 83.72 h-2.40"/>
<path d="M497.39 74.90 h-3.60"/>
<path d="M497.39 66.08 h-2.40"/>
<path d="M497.39 57.26 h-2.40"/>
<path d="M497.39 48.44 h-2.40"/>
<path d="M497.39 39.62 h-2.40"/>
<path d="M497.39 30.80 h-3.60"/>
<path d="M497.39 21.98 h-2.40"/>
<path d="M497.39 13.16 h-2.40"/>
<path d="M497.39 4.34 h-2.40"/>
</g>
<g font-size="15.8px">
<text x="69.05" y="297.10" text-anchor="middle">−6</text>
<text x="138.93" y="297.10" text-anchor="middle">−4</text>
<text x="208.81" y="297.10" text-anchor="middle">−2</text>
<text x="278.69" y="297.10" text-anchor="middle">0</text>
<text x="348.58" y="297.10" text-anchor="middle">2</text>
<text x="418.46" y="297.10" text-anchor="middle">4</text>
<text x="488.34" y="297.10" text-anchor="middle">6</text>
<text x="56.60" y="37.20" text-anchor="end">0.3</text>
<text x="56.60" y="81.30" text-anchor="end">0.2</text>
<text x="56.60" y="125.40" text-anchor="end">0.1</text>
<text x="56.60" y="169.50" text-anchor="end">0.0</text>
<text x="56.60" y="213.60" text-anchor="end">−0.1</text>
<text x="56.60" y="257.70" text-anchor="end">−0.2</text>
</g>
<g fill="none">
<path d="M397.25 31.9 H426.01" stroke="#f00" stroke-width="2.3"/>
<path d="M367.45 59.4 H421.18" stroke="#00f" stroke-width="2.4" stroke-dasharray="8.35 3.00"/>
<path d="M367.45 86.9 H419.87" stroke="#f0f" stroke-width="2.3" stroke-dasharray="3.45 3.40 8.15 3.40"/>
</g>
<g font-size="15.8px">
<text font-size="17.0px" font-style="italic" style="stroke-width:0.1px" transform="translate(434.77 36.60) scale(1.06 1)">β</text>
<text transform="translate(448.24 37.40) scale(1.12 1)">=</text>
<text transform="translate(463.20 36.90) scale(1.09 1)">1</text>
<text font-size="17.0px" font-style="italic" style="stroke-width:0.1px" transform="translate(433.20 64.10) scale(1.06 1)">β</text>
<text transform="translate(446.54 64.90) scale(1.12 1)">=</text>
<text transform="translate(461.37 64.40) scale(1.09 1)">1.2</text>
<text font-size="17.0px" font-style="italic" style="stroke-width:0.1px" transform="translate(433.20 91.60) scale(1.06 1)">β</text>
<text transform="translate(446.54 92.40) scale(1.12 1)">=</text>
<text transform="translate(461.37 91.90) scale(1.09 1)">1.4</text>
</g>
</g>
<g font-size="15.2px">
<text transform="translate(9.1 139.75) scale(0.755 1) rotate(-90)" text-anchor="middle" style="stroke:none">V</text>
<text transform="translate(213.1 328.0) scale(0.765 1)" text-anchor="middle" font-size="15.8px" style="stroke-width:0.45px;fill:#3a3a3a;stroke:#3a3a3a">l</text>
</g>
</svg>
</body></html>
